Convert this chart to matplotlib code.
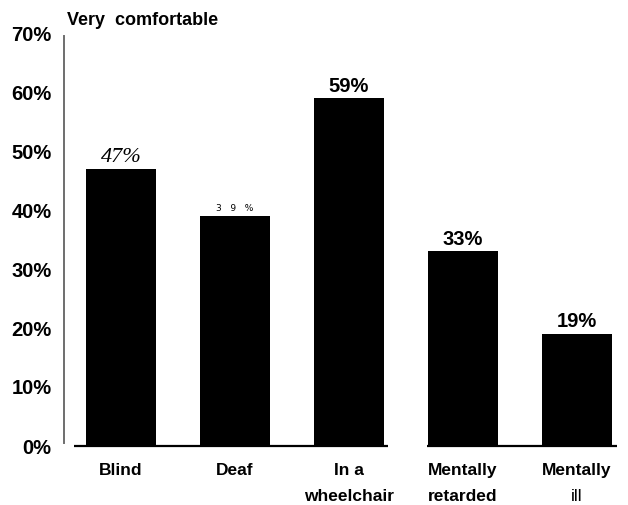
import matplotlib
matplotlib.use("Agg")
import matplotlib.pyplot as plt

# donnees
categories = [["Blind"], ["Deaf"], ["In a", "wheelchair"],
              ["Mentally", "retarded"], ["Mentally", "ill"]]
values = [47, 39, 59, 33, 19]
value_labels = ["47%", "3   9   %", "59%", "33%", "19%"]
yticks = [0, 10, 20, 30, 40, 50, 60, 70]
ytick_labels = ["0%", "10%", "20%", "30%", "40%", "50%", "60%", "70%"]
title = "Very  comfortable"

plt.rcParams['font.family'] = ['Liberation Sans', 'DejaVu Sans']

# style de chaque etiquette de valeur (le scan melange les polices)
label_style = [
    dict(family='Liberation Serif', style='italic', fontsize=16, weight='normal', dy=1),
    dict(family='DejaVu Sans', style='normal', fontsize=6.5, weight='normal', dy=2),
    dict(family='Liberation Sans', style='normal', fontsize=14.5, weight='bold', dy=1.5),
    dict(family='Liberation Sans', style='normal', fontsize=14.5, weight='bold', dy=2),
    dict(family='Liberation Sans', style='normal', fontsize=14.5, weight='bold', dy=2),
]

fig = plt.figure(figsize=(6.28, 5.05), dpi=100)
ax = fig.add_axes([64/628, 1 - 446/505, (617-64)/628, 413/505])

x = list(range(len(values)))
ax.bar(x, values, width=0.61, color='black', zorder=2)

ax.set_xlim(-0.5, 4.35)
ax.set_ylim(0, 70)

# ligne de base coupee entre les deux groupes
ax.hlines(0, -0.41, 2.34, color='black', lw=1.6, clip_on=False, zorder=3)
ax.hlines(0, 2.68, 4.35, color='black', lw=1.6, clip_on=False, zorder=3)

for s in ['top', 'right', 'bottom']:
    ax.spines[s].set_visible(False)
ax.spines['left'].set_color('#6e6e6e')
ax.spines['left'].set_linewidth(1.4)
ax.spines['left'].set_bounds(0.5, 69.5)

ax.set_yticks(yticks)
ax.set_yticklabels(ytick_labels, fontsize=14.5, fontweight='bold')
ax.tick_params(axis='y', length=0, pad=9)
ax.set_xticks([])

for i, v in enumerate(values):
    st = label_style[i]
    ax.annotate(value_labels[i], (i, v), xytext=(0, st['dy']),
                textcoords='offset points', ha='center', va='bottom',
                family=st['family'], style=st['style'],
                fontsize=st['fontsize'], fontweight=st['weight'])

# etiquettes des categories
for i, lignes in enumerate(categories):
    for j, txt in enumerate(lignes):
        w = 'normal' if txt == "ill" else 'bold'
        ax.annotate(txt, (i, 0), xycoords=('data', 'axes fraction'),
                    xytext=(0, -12 - j * 18.7), textcoords='offset points',
                    ha='center', va='top', fontsize=12.5, fontweight=w)

fig.text(67/628, 1 - 25/505, title, fontsize=13, fontweight='bold',
         ha='left', va='baseline')

fig.savefig("out.png", dpi=100)
